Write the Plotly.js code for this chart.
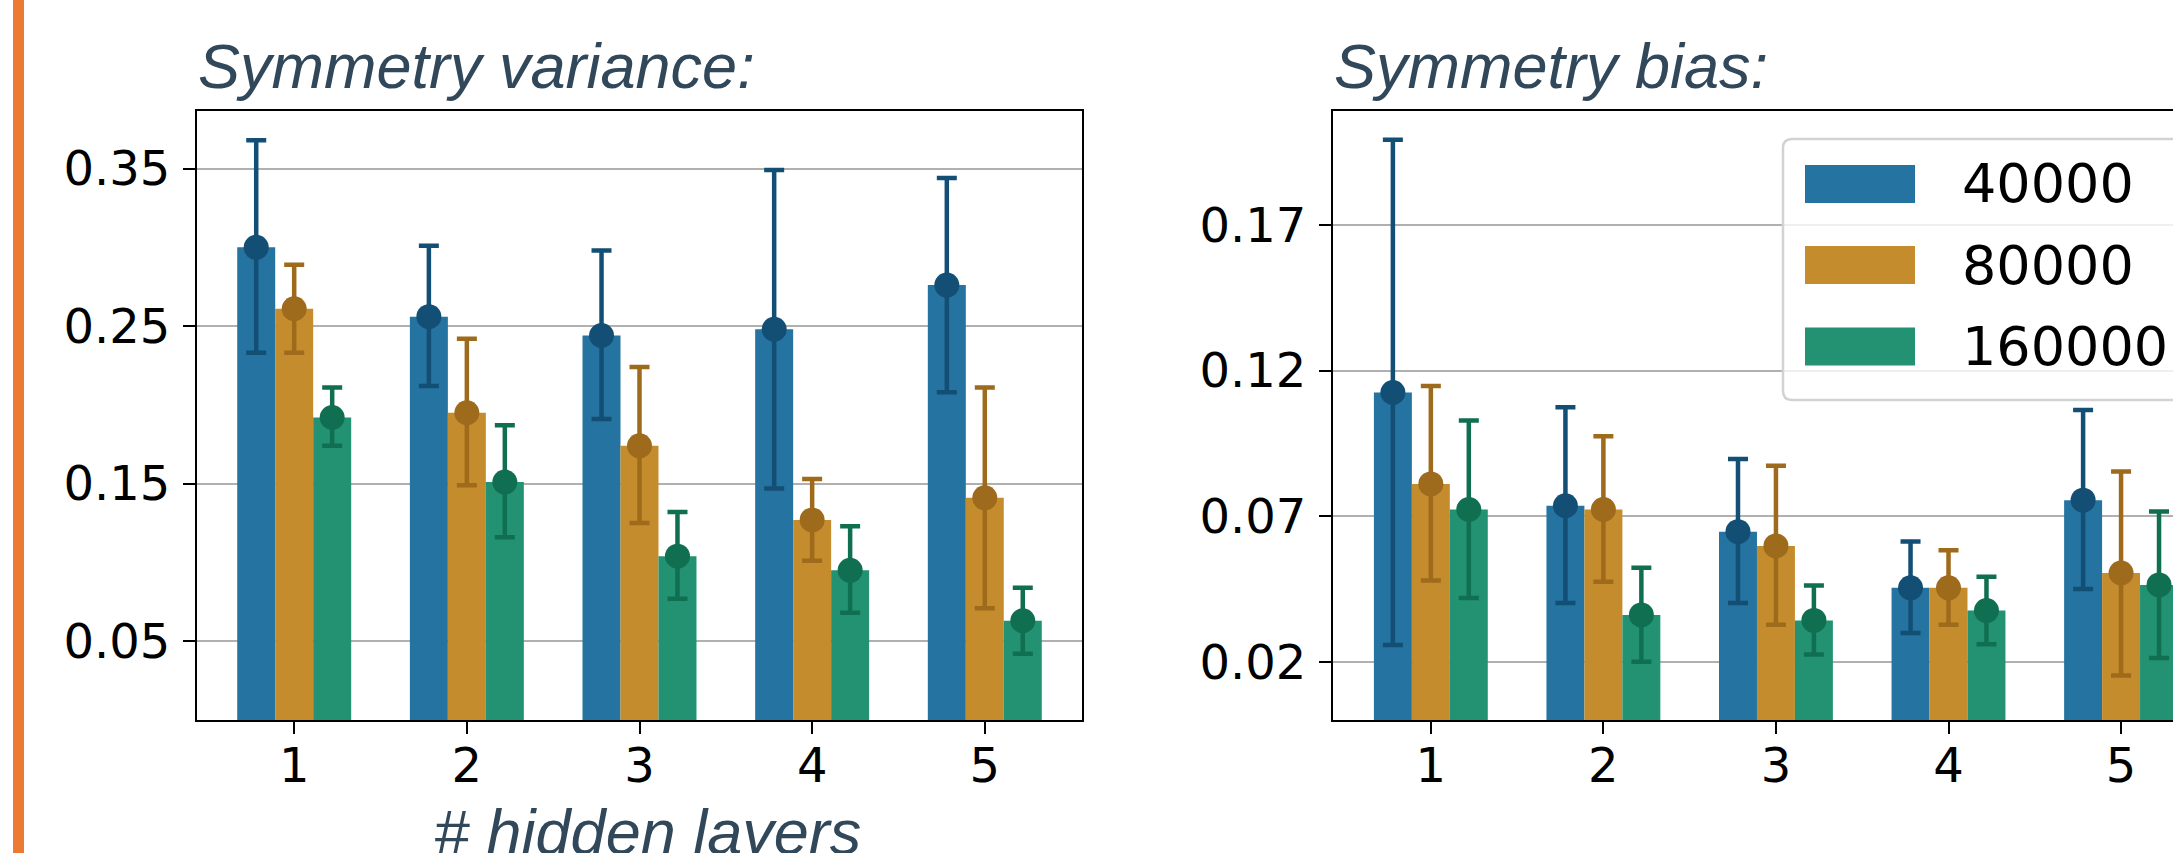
<!DOCTYPE html>
<html>
<head>
<meta charset="utf-8">
<script src="https://cdn.plot.ly/plotly-3.0.1.min.js"></script>
<style>
html,body{margin:0;padding:0;background:#fff;}
#chart{width:2173px;height:853px;}
</style>
</head>
<body>
<div id="chart"></div>
<script>
// ---------------- DATA ----------------
const layers = [1, 2, 3, 4, 5];
const layerLabels = ['1', '2', '3', '4', '5'];
const seriesNames = ['40000', '80000', '160000'];

// Symmetry variance (left panel)
const varMean40k  = [0.300, 0.256, 0.244, 0.248, 0.276];
const varHi40k    = [0.368, 0.301, 0.298, 0.349, 0.344];
const varLo40k    = [0.233, 0.212, 0.191, 0.147, 0.208];
const varMean80k  = [0.261, 0.195, 0.174, 0.127, 0.141];
const varHi80k    = [0.289, 0.242, 0.224, 0.153, 0.211];
const varLo80k    = [0.233, 0.149, 0.125, 0.101, 0.071];
const varMean160k = [0.192, 0.151, 0.104, 0.095, 0.063];
const varHi160k   = [0.211, 0.187, 0.132, 0.123, 0.084];
const varLo160k   = [0.174, 0.116, 0.077, 0.068, 0.042];

// Symmetry bias (right panel)
const biasMean40k  = [0.1125, 0.0736, 0.0647, 0.0454, 0.0755];
const biasHi40k    = [0.1993, 0.1074, 0.0897, 0.0613, 0.1065];
const biasLo40k    = [0.0258, 0.0402, 0.0402, 0.0299, 0.0450];
const biasMean80k  = [0.0811, 0.0723, 0.0598, 0.0454, 0.0505];
const biasHi80k    = [0.1147, 0.0975, 0.0873, 0.0583, 0.0854];
const biasLo80k    = [0.0479, 0.0475, 0.0327, 0.0327, 0.0153];
const biasMean160k = [0.0723, 0.0361, 0.0342, 0.0376, 0.0464];
const biasHi160k   = [0.1029, 0.0523, 0.0462, 0.0492, 0.0716];
const biasLo160k   = [0.0419, 0.0200, 0.0225, 0.0260, 0.0213];

const varTicks  = [0.05, 0.15, 0.25, 0.35];
const biasTicks = [0.02, 0.07, 0.12, 0.17];

// ---------------- STYLE ----------------
const W = 2173, H = 853;
const barColors = ['#2473A0', '#C58C2E', '#229272'];
const dotColors = ['#134F75', '#9E6A1B', '#116F51'];
const barW = 0.22;
const offsets = [-0.22, 0, 0.22];
const px = x => x / W;
const py = y => 1 - y / H;

const varSeries = [
  [varMean40k, varHi40k, varLo40k],
  [varMean80k, varHi80k, varLo80k],
  [varMean160k, varHi160k, varLo160k]
];
const biasSeries = [
  [biasMean40k, biasHi40k, biasLo40k],
  [biasMean80k, biasHi80k, biasLo80k],
  [biasMean160k, biasHi160k, biasLo160k]
];

const traces = [];
function addPanel(series, xa, ya) {
  series.forEach((s, i) => {
    const [mean, hi, lo] = s;
    const xs = layers.map(v => v + offsets[i]);
    traces.push({
      type: 'bar', x: xs, y: mean, width: barW, name: seriesNames[i],
      xaxis: xa, yaxis: ya, showlegend: false,
      marker: {color: barColors[i], line: {width: 0}},
      hoverinfo: 'y'
    });
  });
  series.forEach((s, i) => {
    const [mean, hi, lo] = s;
    const xs = layers.map(v => v + offsets[i]);
    traces.push({
      type: 'scatter', mode: 'markers', x: xs, y: mean, name: seriesNames[i],
      xaxis: xa, yaxis: ya, showlegend: false,
      marker: {color: dotColors[i], size: 25},
      error_y: {
        type: 'data', symmetric: false,
        array: hi.map((h, k) => h - mean[k]),
        arrayminus: lo.map((l, k) => mean[k] - l),
        color: dotColors[i], thickness: 4.5, width: 10
      },
      hoverinfo: 'y'
    });
  });
}
addPanel(varSeries, 'x', 'y');
addPanel(biasSeries, 'x2', 'y2');

const tickFont = {family: 'DejaVu Sans', size: 48, color: '#000'};
const titleFont = {family: 'Liberation Sans', size: 63, color: '#31475A', style: 'italic'};
const yDom = [py(720), py(111)];

const baseX = {
  showline: true, linecolor: '#000', linewidth: 2, mirror: true,
  ticks: 'outside', ticklen: 12, tickwidth: 2, tickcolor: '#000',
  showgrid: false, zeroline: false, tickfont: tickFont, ticklabelstandoff: -10,
  tickvals: layers, ticktext: layerLabels, fixedrange: true
};
const baseY = {
  showline: true, linecolor: '#000', linewidth: 2,
  ticks: 'outside', ticklen: 12, tickwidth: 2, tickcolor: '#000',
  showgrid: true, gridcolor: '#B0B0B0', gridwidth: 2,
  zeroline: false, tickfont: tickFont, ticklabelstandoff: 3, fixedrange: true
};

const shapes = [
  {type: 'rect', xref: 'paper', yref: 'paper', x0: px(13), x1: px(24), y0: 0, y1: 1,
   fillcolor: '#EC7A30', line: {width: 0}, layer: 'above'}
];
// legend box (rounded)
const L = 1783, T = 139, B = 400, R = 2200, r = 9;
const P = (x, y) => `${px(x)},${py(y)}`;
shapes.push({
  type: 'path', xref: 'paper', yref: 'paper', layer: 'above',
  path: `M ${P(L + r, T)} L ${P(R, T)} L ${P(R, B)} L ${P(L + r, B)} Q ${P(L, B)} ${P(L, B - r)} L ${P(L, T + r)} Q ${P(L, T)} ${P(L + r, T)} Z`,
  fillcolor: 'rgba(255,255,255,0.8)', line: {color: '#D2D2D2', width: 2.5}
});
const rowCenters = [184, 265, 346.5];
const annotations = [];
seriesNames.forEach((n, i) => {
  shapes.push({
    type: 'rect', xref: 'paper', yref: 'paper', layer: 'above',
    x0: px(1805), x1: px(1915), y0: py(rowCenters[i] + 19), y1: py(rowCenters[i] - 19),
    fillcolor: barColors[i], line: {width: 0}
  });
  annotations.push({
    xref: 'paper', yref: 'paper', x: px(1960), y: py(rowCenters[i]),
    xanchor: 'left', yanchor: 'middle', showarrow: false, text: n,
    font: {family: 'DejaVu Sans', size: 54, color: '#000'}
  });
});
annotations.push(
  {xref: 'paper', yref: 'paper', x: px(196), y: py(66), xanchor: 'left', yanchor: 'middle',
   showarrow: false, text: 'Symmetry variance:', font: titleFont},
  {xref: 'paper', yref: 'paper', x: px(1332), y: py(66), xanchor: 'left', yanchor: 'middle',
   showarrow: false, text: 'Symmetry bias:', font: titleFont},
  {xref: 'paper', yref: 'paper', x: px(647), y: py(832), xanchor: 'center', yanchor: 'middle',
   showarrow: false, text: '# hidden layers', font: titleFont}
);

const layout = {
  width: W, height: H,
  margin: {l: 0, r: 0, t: 0, b: 0, pad: 0, autoexpand: false},
  paper_bgcolor: '#fff', plot_bgcolor: 'rgba(0,0,0,0)',
  showlegend: false, barmode: 'overlay',
  xaxis: Object.assign({}, baseX, {domain: [px(197), px(1082)], range: [0.437, 5.563], anchor: 'y'}),
  yaxis: Object.assign({}, baseY, {domain: yDom, range: [0, 0.3865], anchor: 'x', mirror: true,
    tickvals: varTicks, ticktext: varTicks.map(v => v.toFixed(2))}),
  xaxis2: Object.assign({}, baseX, {domain: [px(1333), 1], range: [0.433, 5.301], anchor: 'y2'}),
  yaxis2: Object.assign({}, baseY, {domain: yDom, range: [0, 0.2092], anchor: 'x2', mirror: false,
    tickvals: biasTicks, ticktext: biasTicks.map(v => v.toFixed(2))}),
  shapes: shapes,
  annotations: annotations
};

Plotly.newPlot('chart', traces, layout, {displayModeBar: false, staticPlot: true});
</script>
</body>
</html>
